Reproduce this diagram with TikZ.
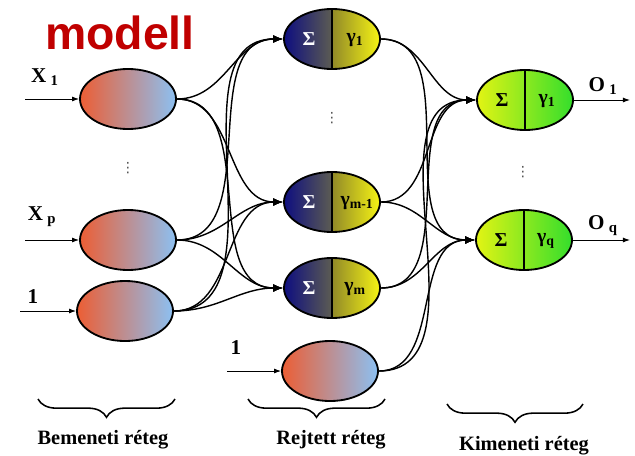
\documentclass[tikz,border=0pt]{standalone}
\usepackage{fontspec}
\setmainfont{Liberation Serif}
\newfontfamily\titlefont{Liberation Sans}
\newfontfamily\dotfont{DejaVu Sans}
\usepackage{tikz}
\usetikzlibrary{arrows.meta,shapes.geometric,decorations.pathreplacing}
\definecolor{red700}{HTML}{C00000}
\definecolor{inleft}{RGB}{236,94,52}
\definecolor{inright}{RGB}{140,192,242}
\definecolor{hidleft}{RGB}{14,14,128}
\definecolor{hidmid}{RGB}{92,92,82}
\definecolor{hidolive}{RGB}{146,138,40}
\definecolor{hidright}{RGB}{246,244,20}
\definecolor{outleft}{RGB}{226,244,20}
\definecolor{outright}{RGB}{52,222,44}
\pgfdeclarehorizontalshading{inshade}{100bp}{color(0bp)=(inleft); color(25bp)=(inleft); color(75bp)=(inright); color(100bp)=(inright)}
\pgfdeclarehorizontalshading{hidshade}{100bp}{color(0bp)=(hidleft); color(25bp)=(hidleft); color(49.9bp)=(hidmid); color(50.1bp)=(hidolive); color(75bp)=(hidright); color(100bp)=(hidright)}
\pgfdeclarehorizontalshading{outshade}{100bp}{color(0bp)=(outleft); color(25bp)=(outleft); color(75bp)=(outright); color(100bp)=(outright)}
\tikzstyle{neuron}=[ellipse, draw=black, line width=1.3pt, minimum width=2.4cm, minimum height=1.5cm, inner sep=0pt]
\tikzstyle{inneuron}=[neuron, shading=inshade]
\tikzstyle{hidneuron}=[neuron, shading=hidshade]
\tikzstyle{outneuron}=[neuron, shading=outshade]
\tikzstyle{sym}=[font=\fontsize{14}{14}\selectfont\bfseries, inner sep=0pt]
\tikzstyle{lbl}=[font=\fontsize{15}{15}\selectfont\bfseries, inner sep=0pt]
\tikzstyle{layer}=[font=\fontsize{14.5}{15}\selectfont\bfseries, inner sep=0pt]
\tikzstyle{vdots}=[font=\fontsize{10}{10}\selectfont\dotfont, text=black!70, inner sep=0pt]
\tikzstyle{wire}=[draw=black, line width=1pt, -{Latex[length=7pt,width=5.5pt]}, out=0, in=180]
\tikzstyle{feed}=[line width=0.6pt, -{Latex[length=5pt,width=3.5pt]}]
\tikzstyle{layerbrace}=[decorate, decoration={brace, mirror, amplitude=13pt}, line width=1.1pt]

\begin{document}
\begin{tikzpicture}[x=0.025cm, y=-0.025cm]
			\useasboundingbox (0,0) rectangle (635,455);
			\node[font=\fontsize{33}{33}\selectfont\titlefont\bfseries, text=red700] (title) at (120,33) {modell};
			% bemeneti reteg
			\node[inneuron] (i1) at (128,99) {};
			\node[inneuron] (ip) at (128,240) {};
			\node[inneuron] (i0) at (125,311) {};
			\node[vdots] (idots) at (128,168) {⋮};
			\coordinate (x1) at (25,99);
			\coordinate (xp) at (25,240);
			\coordinate (xb) at (20,311);
			\node[lbl] (x1l) at (45,77) {X\kern3pt\textsubscript{1}};
			\node[lbl] (xpl) at (42,217) {X\kern3pt\textsubscript{p}};
			\node[lbl] (xbl) at (33,297) {1};
			% rejtett reteg
			\node[hidneuron] (h1) at (332,39) {};
			\node[hidneuron] (hm1) at (332,202) {};
			\node[hidneuron] (hm) at (332,288) {};
			\node[inneuron] (h0) at (330,371) {};
			\node[vdots] (hdots) at (332,118) {⋮};
			\coordinate (hb) at (227,371);
			\node[lbl] (hbl) at (236,348) {1};
			\path[draw=black, line width=1pt] (h1.north)--(h1.south) (hm1.north)--(hm1.south) (hm.north)--(hm.south);
			\node[sym, text=white] (h1s) at (309,39) {Σ};
			\node[sym] (h1g) at (355,40) {γ\textsubscript{1}};
			\node[sym, text=white] (hm1s) at (309,202) {Σ};
			\node[sym] (hm1g) at (357,203) {γ\textsubscript{m-1}};
			\node[sym, text=white] (hms) at (309,288) {Σ};
			\node[sym] (hmg) at (355,289) {γ\textsubscript{m}};
			% kimeneti reteg
			\node[outneuron] (o1) at (525,100) {};
			\node[outneuron] (oq) at (524,240) {};
			\node[vdots] (odots) at (523,172) {⋮};
			\path[draw=black, line width=1pt] (o1.north)--(o1.south) (oq.north)--(oq.south);
			\node[sym] (o1s) at (502,100) {Σ};
			\node[sym] (o1g) at (547,101) {γ\textsubscript{1}};
			\node[sym] (oqs) at (501,240) {Σ};
			\node[sym] (oqg) at (546,241) {γ\textsubscript{q}};
			\coordinate (y1) at (630,100);
			\coordinate (yq) at (630,240);
			\node[lbl] (y1l) at (603,86) {O\kern3pt\textsubscript{1}};
			\node[lbl] (yql) at (603,226) {O\kern3pt\textsubscript{q}};
			% be- es kimenetek
			\draw[feed] (x1) -- (i1);
			\draw[feed] (xp) -- (ip);
			\draw[feed] (xb) -- (i0);
			\draw[feed] (hb) -- (h0);
			\draw[feed] (o1) -- (y1);
			\draw[feed] (oq) -- (yq);
			% kapcsolatok
			\path[every edge/.append style={wire}] (i1.east) edge (h1.west) (i1.east) edge (hm1.west) (i1.east) edge (hm.west)
				(ip.east) edge (h1.west) (ip.east) edge (hm1.west) (ip.east) edge (hm.west)
				(i0.east) edge (h1.west) (i0.east) edge (hm1.west) (i0.east) edge (hm.west);
			\path[every edge/.append style={wire}] (h1.east) edge (o1.west) (h1.east) edge (oq.west)
				(hm1.east) edge (o1.west) (hm1.east) edge (oq.west)
				(hm.east) edge (o1.west) (hm.east) edge (oq.west)
				(h0.east) edge (o1.west) (h0.east) edge (oq.west);
			% retegek
			\draw[layerbrace] (38,399) -- (175,399);
			\draw[layerbrace] (248,399) -- (385,399);
			\draw[layerbrace] (447,404) -- (583,404);
			\node[layer] (bl) at (103,440) {Bemeneti réteg};
			\node[layer] (rl) at (331,440) {Rejtett réteg};
			\node[layer] (kl) at (524,446) {Kimeneti réteg};
		\end{tikzpicture}
\end{document}
